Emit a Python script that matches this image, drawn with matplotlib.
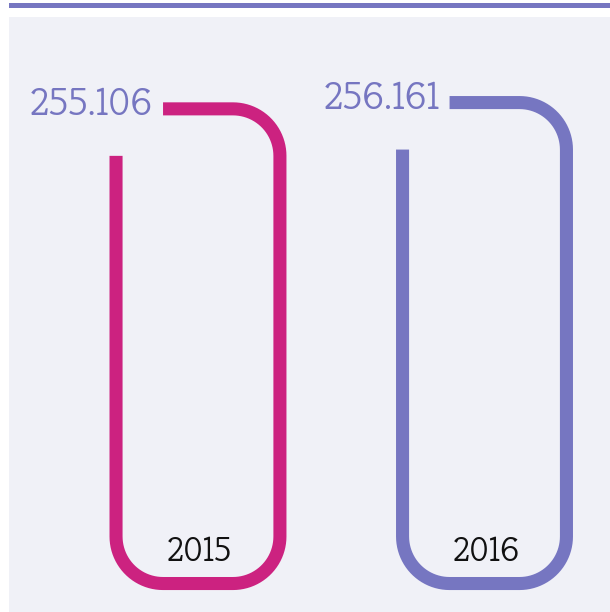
"""Two open rounded 'bars' comparing 2015 and 2016 totals."""

import numpy as np
import matplotlib

matplotlib.use("Agg")
import matplotlib.pyplot as plt
import matplotlib.patches as mpatches
import matplotlib.transforms as mtransforms
from matplotlib.path import Path


years = ["2015", "2016"]
values = [255.106, 256.161]
value_labels = ["255.106", "256.161"]

C = {
    "bg": "#F0F1F7",
    "pink": "#CC2280",
    "purple": "#7676C1",
    "text": "#111111",
}
bar_colors = [C["pink"], C["purple"]]

DPI = 100
W_PX, H_PX = 610, 612
BASE = 175.6          # value at the bottom of the bars
HALF_W = 0.286        # half bar width in category units
R_PX = 47             # corner radius in pixels
LW = 9.4              # stroke width, points

fig = plt.figure(figsize=(W_PX / DPI, H_PX / DPI), dpi=DPI)
fig.patch.set_facecolor("white")

# page furniture: top rule and light panel
fig.add_artist(mpatches.Rectangle((9 / W_PX, 0), 1, (H_PX - 16.7) / H_PX,
                                  transform=fig.transFigure, facecolor=C["bg"],
                                  edgecolor="none", zorder=0))
fig.add_artist(mpatches.Rectangle((9 / W_PX, (H_PX - 8.4) / H_PX), 1, 5.3 / H_PX,
                                  transform=fig.transFigure, facecolor=C["purple"],
                                  edgecolor="none", zorder=0))

ax = fig.add_axes([0, 0, 1, 1])
ax.set_xlim(-0.691, 1.438)
ax.set_ylim(170.83, 273.34)
ax.axis("off")
ax.patch.set_alpha(0)

# pixel -> data conversions for the corner radius
px_x = W_PX / (1.438 + 0.691)
px_y = H_PX / (273.34 - 170.83)
rx = R_PX / px_x
ry = R_PX / px_y


def arc(cx, cy, t0, t1, n=24):
    t = np.radians(np.linspace(t0, t1, n))
    return list(zip(cx + rx * np.cos(t), cy + ry * np.sin(t)))


def open_bar(x, top, color):
    L, R, T, B = x - HALF_W, x + HALF_W, top, BASE
    pts = [(L, T - ry), (L, B + ry)]
    pts += arc(L + rx, B + ry, 180, 270)
    pts += [(R - rx, B)]
    pts += arc(R - rx, B + ry, 270, 360)
    pts += [(R, T - ry)]
    pts += arc(R - rx, T - ry, 0, 90)
    pts += [(L + rx, T)]
    path = Path(pts)
    ax.add_patch(mpatches.PathPatch(path, facecolor="none", edgecolor=color, lw=LW,
                                    capstyle="butt", joinstyle="round", zorder=3))


font = ["Kreon", "DejaVu Serif"]
for i, (yr, v, lab) in enumerate(zip(years, values, value_labels)):
    open_bar(i, v, bar_colors[i])
    off = mtransforms.offset_copy(ax.transData, fig=fig, x=-10, y=-6, units="dots")
    ax.text(i - HALF_W + rx, v, lab, transform=off, ha="right", va="baseline",
            fontsize=28, weight=300, color=C["purple"], family=font, zorder=4)
    off2 = mtransforms.offset_copy(ax.transData, fig=fig, x=1.5, y=22.5, units="dots")
    ax.text(i, BASE, yr, transform=off2, ha="center", va="baseline",
            fontsize=24.7, color=C["text"], family=font, zorder=4)

fig.savefig("out.png", dpi=DPI)
plt.close(fig)
